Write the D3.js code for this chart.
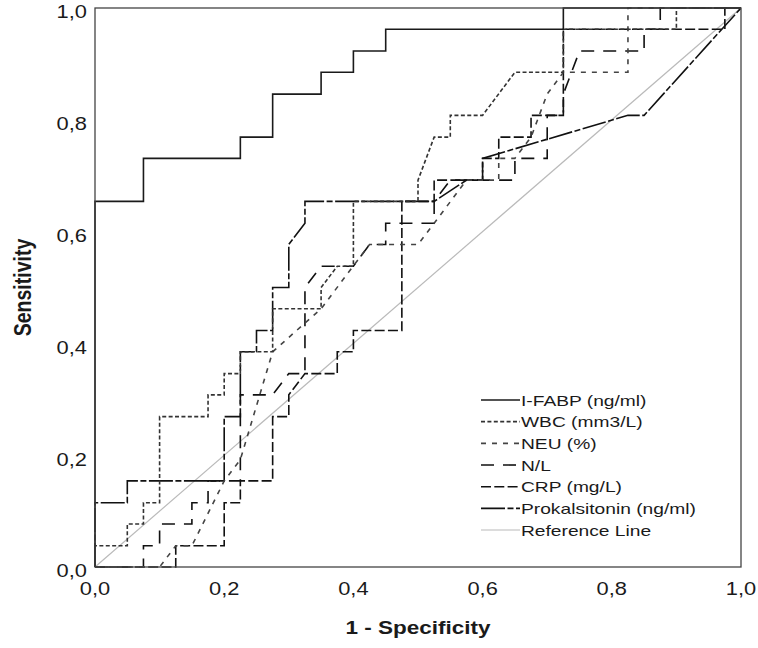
<!DOCTYPE html>
<html lang="en">
<head>
<meta charset="UTF-8">
<title>ROC Curve</title>
<script src="https://d3js.org/d3.v7.min.js"></script>
<style>
  body { margin: 0; background: #fff; }
  text { font-family: "Liberation Sans", Arial, sans-serif; fill: #1a1a1a; }
</style>
</head>
<body>
<svg width="758" height="648"></svg>
<script>
// ROC points, [1 - specificity, sensitivity]
const iFabp = [[0,0],[0,0.654],[0.075,0.654],[0.075,0.731],[0.225,0.731],[0.225,0.769],[0.275,0.769],[0.275,0.846],[0.35,0.846],[0.35,0.885],[0.4,0.885],[0.4,0.923],[0.45,0.923],[0.45,0.962],[0.725,0.962],[0.725,1],[1,1]];
const wbc = [[0,0],[0,0.038],[0.05,0.038],[0.05,0.077],[0.075,0.077],[0.075,0.115],[0.1,0.115],[0.1,0.269],[0.175,0.269],[0.175,0.308],[0.2,0.308],[0.2,0.346],[0.225,0.346],[0.225,0.385],[0.275,0.385],[0.275,0.462],[0.35,0.462],[0.35,0.5],[0.375,0.538],[0.4,0.538],[0.4,0.654],[0.5,0.654],[0.5,0.692],[0.525,0.769],[0.55,0.769],[0.55,0.808],[0.6,0.808],[0.65,0.885],[0.725,0.885],[0.725,0.962],[0.9,0.962],[0.9,1],[1,1]];
const neu = [[0,0],[0.1,0],[0.125,0.038],[0.15,0.038],[0.2,0.154],[0.225,0.192],[0.275,0.385],[0.35,0.462],[0.425,0.577],[0.5,0.577],[0.525,0.615],[0.575,0.692],[0.625,0.692],[0.625,0.731],[0.65,0.731],[0.675,0.769],[0.7,0.846],[0.725,0.885],[0.825,0.885],[0.825,1],[1,1]];
const nl = [[0,0],[0.075,0],[0.075,0.038],[0.1,0.038],[0.1,0.077],[0.15,0.077],[0.15,0.115],[0.175,0.115],[0.175,0.154],[0.225,0.154],[0.225,0.308],[0.275,0.308],[0.3,0.346],[0.325,0.346],[0.325,0.5],[0.35,0.538],[0.4,0.538],[0.425,0.577],[0.45,0.577],[0.45,0.615],[0.525,0.615],[0.525,0.654],[0.55,0.692],[0.65,0.692],[0.65,0.731],[0.7,0.731],[0.7,0.808],[0.725,0.808],[0.725,0.846],[0.75,0.923],[0.85,0.923],[0.85,0.962],[0.875,0.962],[0.875,1],[1,1]];
const crp = [[0,0],[0.125,0],[0.125,0.038],[0.2,0.038],[0.2,0.115],[0.225,0.115],[0.225,0.154],[0.275,0.154],[0.275,0.269],[0.3,0.269],[0.3,0.308],[0.325,0.346],[0.375,0.346],[0.375,0.385],[0.4,0.385],[0.4,0.423],[0.475,0.423],[0.475,0.654],[0.525,0.654],[0.525,0.692],[0.6,0.692],[0.6,0.731],[0.625,0.731],[0.625,0.769],[0.675,0.769],[0.675,0.808],[0.725,0.808],[0.725,0.962],[0.975,0.962],[0.975,1],[1,1]];
const prokalsitonin = [[0,0],[0,0.115],[0.05,0.115],[0.05,0.154],[0.2,0.154],[0.2,0.269],[0.225,0.269],[0.225,0.385],[0.25,0.385],[0.25,0.423],[0.275,0.423],[0.275,0.5],[0.3,0.5],[0.3,0.577],[0.325,0.615],[0.325,0.654],[0.525,0.654],[0.575,0.692],[0.6,0.692],[0.6,0.731],[0.825,0.808],[0.85,0.808],[1,1]];
const referenceLine = [[0,0],[1,1]];

const seriesNames = ["I-FABP (ng/ml)", "WBC (mm3/L)", "NEU (%)", "N/L", "CRP (mg/L)", "Prokalsitonin (ng/ml)", "Reference Line"];
const xTicks = [0, 0.2, 0.4, 0.6, 0.8, 1.0];
const yTicks = [0, 0.2, 0.4, 0.6, 0.8, 1.0];

// line looks, same order as the names
const styles = [
  {color: "#1a1a1a", dash: null,          width: 1.6},
  {color: "#333",    dash: "4,2.4",       width: 1.6},
  {color: "#444",    dash: "5,6",         width: 1.6},
  {color: "#111",    dash: "13,9",        width: 1.6},
  {color: "#111",    dash: "10,3.3",      width: 1.6},
  {color: "#111",    dash: "24,2.5,6,2.5", width: 1.6},
  {color: "#bababa", dash: null,          width: 1.2}
];
const curves = [iFabp, wbc, neu, nl, crp, prokalsitonin, referenceLine];

const svg = d3.select("svg");
const x = d3.scaleLinear().domain([0, 1]).range([95, 741]);
const y = d3.scaleLinear().domain([0, 1]).range([567, 8]);
const fmt = v => d3.format(".1f")(v).replace(".", ",");
// the original picture is stretched sideways, so text gets a horizontal scale
const sx = 1.25;

const line = d3.line().x(d => x(d[0])).y(d => y(d[1]));

// reference line first, then the rest from last to first
const order = [6, 5, 4, 3, 2, 1, 0];
order.forEach(i => {
  svg.append("path")
    .attr("d", line(curves[i]))
    .attr("fill", "none")
    .attr("stroke", styles[i].color)
    .attr("stroke-width", styles[i].width)
    .attr("stroke-dasharray", styles[i].dash);
});

// frame
svg.append("rect")
  .attr("x", x(0)).attr("y", y(1))
  .attr("width", x(1) - x(0)).attr("height", y(0) - y(1))
  .attr("fill", "none")
  .attr("stroke", "#444")
  .attr("stroke-width", 1.3);

// tick labels
svg.selectAll(".xt").data(xTicks).enter().append("text")
  .attr("transform", d => "translate(" + x(d) + ",595) scale(" + sx + ",1)")
  .attr("text-anchor", "middle")
  .style("font-size", "17.5px")
  .text(fmt);

svg.selectAll(".yt").data(yTicks).enter().append("text")
  .attr("transform", d => "translate(87," + (y(d) + 10.3) + ") scale(" + sx + ",1)")
  .attr("text-anchor", "end")
  .style("font-size", "17.5px")
  .text(fmt);

// axis titles
svg.append("text")
  .attr("transform", "translate(418,634) scale(" + sx + ",1)")
  .attr("text-anchor", "middle")
  .style("font-size", "18px").style("font-weight", "bold")
  .text("1 - Specificity");

svg.append("text")
  .attr("transform", "translate(31," + y(0.5) + ") scale(" + sx + ",1) rotate(-90)")
  .attr("text-anchor", "middle")
  .style("font-size", "19.5px").style("font-weight", "bold")
  .text("Sensitivity");

// legend
const legend = svg.append("g").attr("transform", "translate(481,400)");
seriesNames.forEach((name, i) => {
  const row = legend.append("g").attr("transform", "translate(0," + (i * 21.67) + ")");
  row.append("line")
    .attr("x1", 0).attr("x2", 39).attr("y1", 0).attr("y2", 0)
    .attr("stroke", styles[i].color)
    .attr("stroke-width", styles[i].width)
    .attr("stroke-dasharray", styles[i].dash);
  row.append("text")
    .attr("transform", "translate(40,5.7) scale(1.28,1)")
    .style("font-size", "15px")
    .text(name);
});
</script>
</body>
</html>
